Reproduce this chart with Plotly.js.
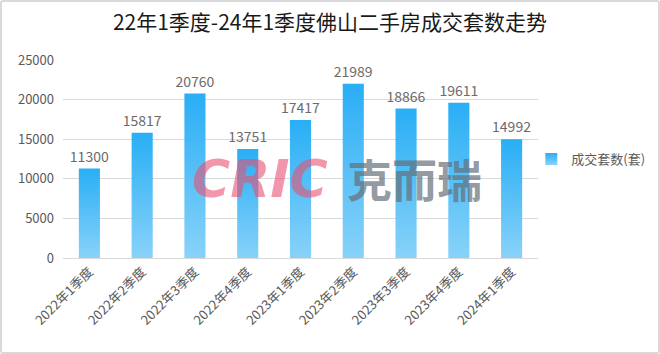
<!DOCTYPE html>
<html>
<head>
<meta charset="utf-8">
<script src="https://cdn.plot.ly/plotly-3.0.1.min.js"></script>
<style>
html,body{margin:0;padding:0;background:#fff;}
#wrap{position:relative;width:660px;height:354px;}
#chart{position:absolute;left:0;top:0;width:660px;height:354px;}
#frame{position:absolute;left:0;top:0;width:660px;height:354px;box-sizing:border-box;border:2px solid #d9d9d9;border-radius:3px;pointer-events:none;}
</style>
</head>
<body>
<div id="wrap"><div id="chart"></div><div id="frame"></div></div>
<script>
const categories = ["2022年1季度","2022年2季度","2022年3季度","2022年4季度","2023年1季度","2023年2季度","2023年3季度","2023年4季度","2024年1季度"];
const deals = [11300,15817,20760,13751,17417,21989,18866,19611,14992];
const seriesName = "成交套数(套)";
const yTicks = [0,5000,10000,15000,20000,25000];
const chartTitle = "22年1季度-24年1季度佛山二手房成交套数走势";

const FONT = '"Noto Sans CJK SC","Noto Sans",sans-serif';
const trace = {
  type:'bar', x:categories, y:deals, name:seriesName,
  text:deals.map(String), textposition:'outside', cliponaxis:false, constraintext:'none',
  textfont:{family:FONT,size:14,color:'#6b6b6b'},
  marker:{color:'#2AB0F5',line:{width:0}},
  hoverinfo:'x+y'
};
const layout = {
  width:660,height:354,
  margin:{l:63,r:122,t:60,b:96,autoexpand:false},
  paper_bgcolor:'#fff',plot_bgcolor:'#fff',
  title:{text:chartTitle,font:{family:FONT,size:21,color:'#1a1a1a'},x:0.5,xanchor:'center',y:0.935,yanchor:'middle'},
  bargap:0.6,
  showlegend:true,
  legend:{xref:'container',x:0.805,xanchor:'left',y:0.5,yanchor:'middle',font:{family:FONT,size:13,color:'#595959'},itemwidth:30},
  xaxis:{tickangle:-45,tickfont:{family:FONT,size:13,color:'#595959'},showline:true,linecolor:'#d9d9d9',linewidth:1,ticks:'',showgrid:false},
  yaxis:{range:[0,25000],tickvals:yTicks,ticktext:yTicks.map(String),tickfont:{family:FONT,size:13,color:'#595959'},gridcolor:'#d9d9d9',gridwidth:1,zeroline:false,ticks:'',ticklabelstandoff:8,showline:false},
  annotations:[
    {xref:'paper',yref:'paper',x:0.415,y:0.4,text:'<b><i>CRIC</i></b>',showarrow:false,font:{family:'DejaVu Sans',size:52,color:'rgba(232,80,115,0.6)'},xanchor:'center',yanchor:'middle'},
    {xref:'paper',yref:'paper',x:0.74,y:0.4,text:'<b>克而瑞</b>',showarrow:false,font:{family:FONT,size:45,color:'rgba(100,110,120,0.7)'},xanchor:'center',yanchor:'middle'}
  ]
};
function applyGradient(){
  const gd=document.getElementById('chart');
  const svg=gd.querySelector('.main-svg');
  if(!svg) return;
  if(!document.getElementById('barGrad')){
    const ns='http://www.w3.org/2000/svg';
    let defs=svg.querySelector('defs');
    if(!defs){defs=document.createElementNS(ns,'defs');svg.insertBefore(defs,svg.firstChild);}
    const g=document.createElementNS(ns,'linearGradient');
    g.setAttribute('id','barGrad');g.setAttribute('x1','0');g.setAttribute('y1','0');g.setAttribute('x2','0');g.setAttribute('y2','1');
    [['0','#29AEF5'],['1','#88D2F9']].forEach(s=>{const st=document.createElementNS(ns,'stop');st.setAttribute('offset',s[0]);st.setAttribute('stop-color',s[1]);g.appendChild(st);});
    defs.appendChild(g);
  }
  gd.querySelectorAll('.bars .point path, .legend .legendpoints path').forEach(p=>{p.style.fill='url(#barGrad)';});
}
Plotly.newPlot('chart',[trace],layout,{displayModeBar:false,staticPlot:true}).then(function(){
  applyGradient();
  document.getElementById('chart').on('plotly_afterplot',applyGradient);
});
</script>
</body>
</html>
